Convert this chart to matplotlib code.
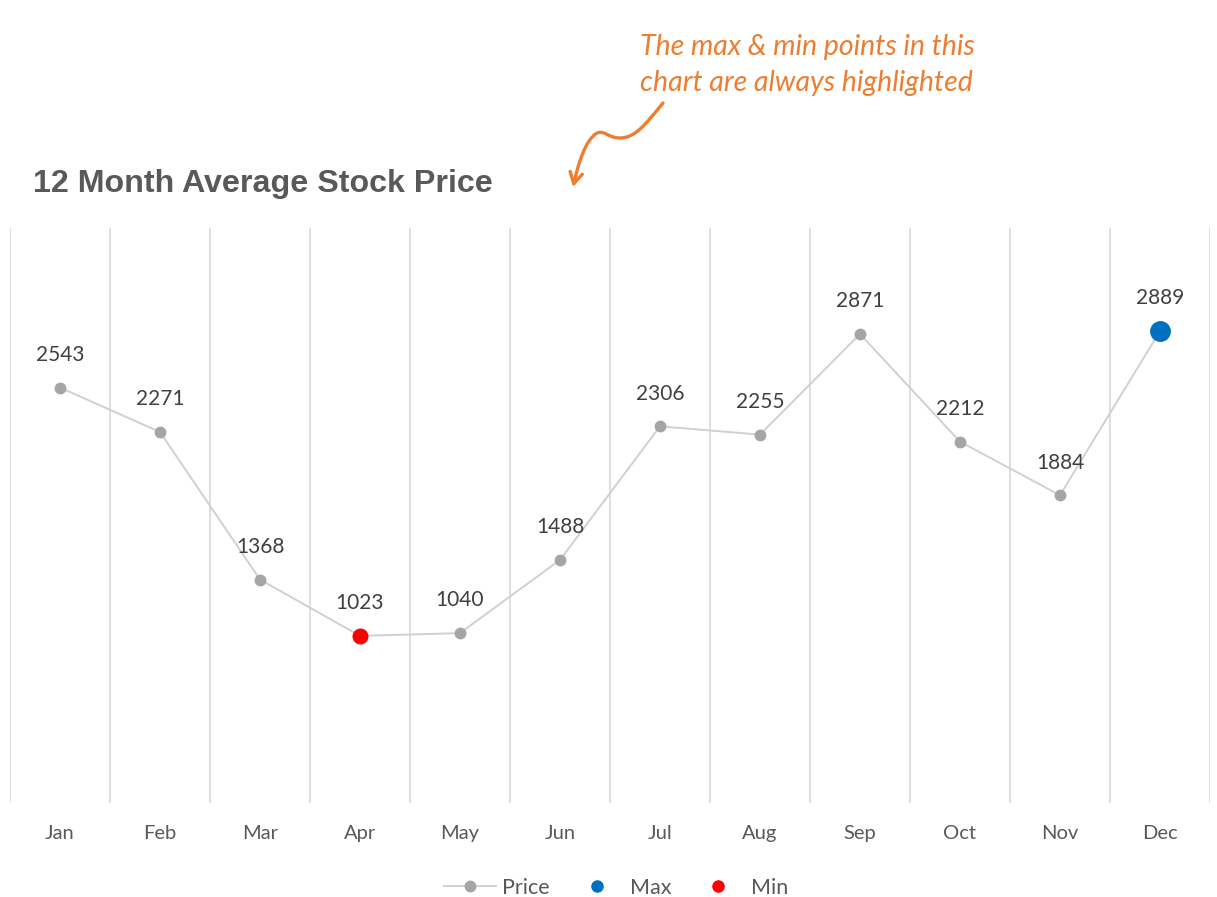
import matplotlib
matplotlib.use("Agg")
import matplotlib.pyplot as plt
from matplotlib.path import Path
from matplotlib.patches import FancyArrowPatch
from matplotlib.lines import Line2D
import numpy as np

# --------------------------------------------------
# dados
# --------------------------------------------------
meses = ["Jan", "Feb", "Mar", "Apr", "May", "Jun",
         "Jul", "Aug", "Sep", "Oct", "Nov", "Dec"]
precos = [2543, 2271, 1368, 1023, 1040, 1488,
          2306, 2255, 2871, 2212, 1884, 2889]

titulo = "12 Month Average Stock Price"
nota = ["The max & min points in this", "chart are always highlighted"]

cinza_linha = "#D0D0D0"
cinza_ponto = "#A5A5A5"
azul = "#0070C0"
vermelho = "#FF0000"
laranja = "#ED7D31"
texto = "#595959"

W, H = 1217, 897
fig = plt.figure(figsize=(W / 100, H / 100), dpi=100)
fig.patch.set_facecolor("white")

ax = fig.add_axes([10 / W, 94 / H, 1200 / W, 575 / H])

x = np.arange(len(meses))
y = np.array(precos)

i_max = int(np.argmax(y))
i_min = int(np.argmin(y))

# linhas verticais entre categorias
for k in range(len(meses) + 1):
    ax.axvline(k - 0.5, color="#D9D9D9", lw=1.2, zorder=0)

ax.plot(x, y, color=cinza_linha, lw=1.4, marker="o", ms=7.5,
        mfc=cinza_ponto, mec=cinza_ponto, zorder=2)
ax.plot(x[i_max], y[i_max], "o", ms=14, color=azul, zorder=3)
ax.plot(x[i_min], y[i_min], "o", ms=10.5, color=vermelho, zorder=3)

for xi, yi in zip(x, y):
    ax.annotate(f"{yi}", (xi, yi), xytext=(0, 23.5), textcoords="offset points",
                ha="center", va="center", fontsize=15, color="#404040",
                family="Lato")

ax.set_xlim(-0.5, len(meses) - 0.5)
ax.set_ylim(0, 3520)
ax.set_xticks(x)
ax.set_xticklabels(meses, family="Lato", fontsize=14.5, color=texto)
ax.tick_params(axis="x", length=0, pad=16)
ax.set_yticks([])
for s in ax.spines.values():
    s.set_visible(False)

# titulo
fig.text(33 / W, 1 - 184 / H, titulo, fontsize=23.2, fontweight="bold",
         color=texto, family="Liberation Sans", va="center", ha="left")

# nota em laranja
for linha, py in zip(nota, [47, 83]):
    fig.text(640 / W, 1 - py / H, linha, fontsize=20.5, style="italic",
             color=laranja, family="Lato", va="center", ha="left")

# seta ondulada
pts = [(663, 103), (645, 125), (635, 138), (620, 138),
       (608, 138), (605, 130), (597, 133),
       (585, 140), (578, 165), (573, 187)]
pts = [(px / W, 1 - py / H) for px, py in pts]
codes = [Path.MOVETO] + [Path.CURVE4] * 9
seta = FancyArrowPatch(path=Path(pts, codes), arrowstyle="->,head_length=8,head_width=4.5",
                       color=laranja, lw=2.4, transform=fig.transFigure,
                       mutation_scale=1)
fig.patches.append(seta)

# legenda
handles = [
    Line2D([], [], color=cinza_linha, lw=1.4, marker="o", ms=7.5,
           mfc=cinza_ponto, mec=cinza_ponto),
    Line2D([], [], ls="", marker="o", ms=8, color=azul),
    Line2D([], [], ls="", marker="o", ms=8, color=vermelho),
]
leg = fig.legend(handles, ["Price", "Max", "Min"], loc="center",
                 bbox_to_anchor=(616 / W, 1 - 888 / H), ncol=3, frameon=False,
                 prop={"family": "Lato", "size": 15.5}, handlelength=2.4,
                 columnspacing=1.0, handletextpad=0.3)
for t in leg.get_texts():
    t.set_color(texto)

fig.savefig("out.png", dpi=100)
